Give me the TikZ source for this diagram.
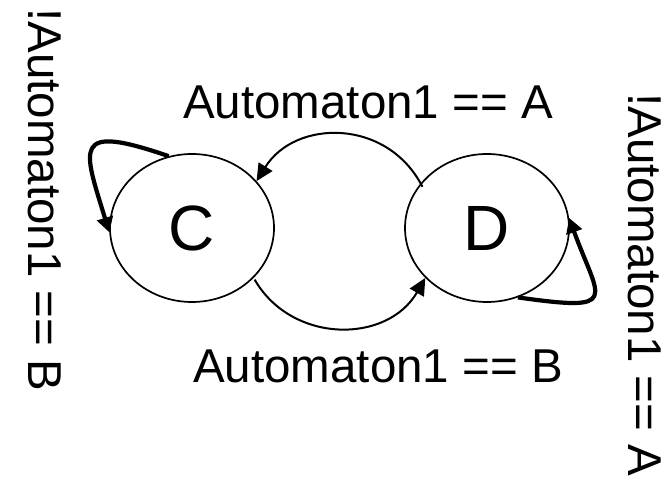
\documentclass[tikz,border=0pt]{standalone}
\usepackage{fontspec}
\setmainfont{Liberation Sans}
\usetikzlibrary{arrows.meta,shapes.geometric}

\begin{document}
\begin{tikzpicture}[x=1pt,y=1pt,
  state/.style={draw,ellipse,line width=1.7pt,minimum width=164pt,minimum height=148pt,
    inner sep=0pt,font=\fontsize{64}{70}\selectfont},
  lbl/.style={inner sep=0pt,font=\fontsize{47.5}{54}\selectfont},
  trans/.style={line width=2pt,-{Triangle[length=17pt,width=16pt]},looseness=1.14},
  selfloop/.style={line width=4.2pt,-{Triangle[length=15pt,width=16pt]}}]
\useasboundingbox (0,0) rectangle (672,478);

% states
\node[state] (C) at (192,250) {C};
\node[state] (D) at (487,250) {D};

% transitions between the states
\draw[trans,shorten <=-4pt] (D.146) to[out=117,in=58] (C.36);
\draw[trans,shorten <=2pt] (C.-39) to[out=-60,in=-120] (D.-141);

% self loops
\draw[selfloop] (C.108) .. controls +(161:103) and +(107:89) .. (C.183);
\draw[selfloop] (D.-66) .. controls +(-8:105) and +(-70:88) .. (D.7);

% guards
\node[lbl,anchor=base west] (tA) at (183,359) {Automaton1 == A};
\node[lbl,anchor=base west] (tB) at (193,95) {Automaton1 == B};
\node[lbl,anchor=base west,rotate=-90] (lC) at (28,470) {!Automaton1 == B};
\node[lbl,anchor=base west,rotate=-90] (lD) at (628,385) {!Automaton1 == A};
\end{tikzpicture}
\end{document}
